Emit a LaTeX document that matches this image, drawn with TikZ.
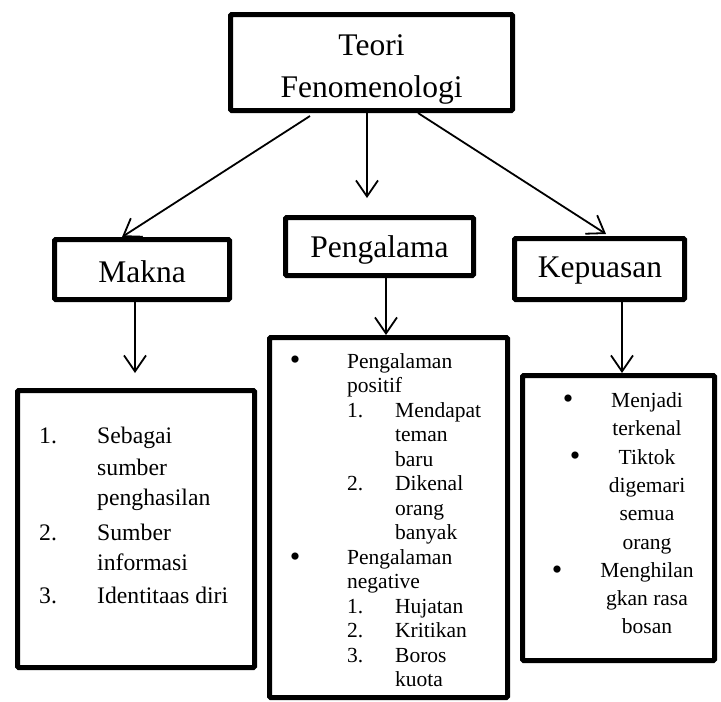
\documentclass[tikz,border=0pt]{standalone}
\usepackage{fontspec}
\setmainfont{Liberation Serif}
\usetikzlibrary{arrows.meta,calc}
\begin{document}
\begin{tikzpicture}[x=1pt,y=-1pt,
  box/.style={draw, line width=5pt, rounded corners=1.2pt, inner sep=0pt, minimum width=#1},
  conn/.style={line width=1.8pt, -{Straight Barb[length=16pt,width=22pt,line width=1.8pt]}},
  big/.style={font=\fontsize{31.5}{42}\selectfont, anchor=base, inner sep=0pt},
  mk/.style={font=\fontsize{23.7}{30}\selectfont, anchor=base west, inner sep=0pt},
  pl/.style={font=\fontsize{21.5}{24.5}\selectfont, anchor=base west, inner sep=0pt},
  kp/.style={font=\fontsize{21.5}{28}\selectfont, anchor=base, inner sep=0pt},
  bul/.style={font=\fontsize{30}{30}\selectfont, anchor=center, inner sep=0pt}]
\useasboundingbox (0,0) rectangle (721,702);

% boxes
\node[box=282pt, minimum height=96pt] (top) at (371.5,62.5) {};
\node[box=175pt, minimum height=60pt] (makna) at (142,269.5) {};
\node[box=188pt, minimum height=58pt] (peng) at (379.5,246.5) {};
\node[box=170pt, minimum height=61pt] (kep) at (599.5,269) {};
\node[box=237pt, minimum height=277pt] (mlist) at (136,529) {};
\node[box=238pt, minimum height=360pt] (plist) at (388.5,517.5) {};
\node[box=192pt, minimum height=285pt] (klist) at (618.5,518) {};

% labels
\node[big] (t1) at (371.5,55) {Teori};
\node[big] (t2) at (371.5,97) {Fenomenologi};
\node[big] (lm) at (142,282) {Makna};
\node[big] (lp) at (379.5,257) {Pengalama};
\node[big] (lk) at (600,277) {Kepuasan};

% connectors
\draw[conn] ($(top.south)+(-61.5,3)$) -- ($(makna.north)+(-20,0)$);
\draw[conn] ($(top.south)+(-4.5,0)$) -- ($(peng.north)+(-12.5,-17)$);
\draw[conn] ($(top.south)+(46.5,0)$) -- ($(kep.north)+(6.5,-2)$);
\draw[conn] ($(makna.south)+(-7,0)$) -- ($(mlist.north)+(-1,-15)$);
\draw[conn] ($(peng.south)+(6.5,0)$) -- ($(plist.north)+(-2.5,0)$);
\draw[conn] ($(kep.south)+(22.5,0)$) -- ($(klist.north)+(3.5,0)$);

% Makna list
\node[mk] (m1n) at (39,443) {1.};
\node[mk] (m1a) at (97,443) {Sebagai};
\node[mk] (m1b) at (97,475) {sumber};
\node[mk] (m1c) at (97,505) {penghasilan};
\node[mk] (m2n) at (39,540) {2.};
\node[mk] (m2a) at (97,540) {Sumber};
\node[mk] (m2b) at (97,570) {informasi};
\node[mk] (m3n) at (39,603) {3.};
\node[mk] (m3a) at (97,603) {Identitaas diri};

% Pengalama list
\node[bul] (pb1) at (295,363) {•};
\node[pl] (p1) at (347,368) {Pengalaman};
\node[pl] (p2) at (347,392.5) {positif};
\node[pl] (p3n) at (347,417) {1.};
\node[pl] (p3) at (395,417) {Mendapat};
\node[pl] (p4) at (395,441.5) {teman};
\node[pl] (p5) at (395,466) {baru};
\node[pl] (p6n) at (347,490.5) {2.};
\node[pl] (p6) at (395,490.5) {Dikenal};
\node[pl] (p7) at (395,515) {orang};
\node[pl] (p8) at (395,539.5) {banyak};
\node[bul] (pb2) at (295,560) {•};
\node[pl] (p9) at (347,564) {Pengalaman};
\node[pl] (p10) at (347,588.5) {negative};
\node[pl] (p11n) at (347,613) {1.};
\node[pl] (p11) at (395,613) {Hujatan};
\node[pl] (p12n) at (347,637.5) {2.};
\node[pl] (p12) at (395,637.5) {Kritikan};
\node[pl] (p13n) at (347,662) {3.};
\node[pl] (p13) at (395,662) {Boros};
\node[pl] (p14) at (395,686.5) {kuota};

% Kepuasan list
\node[bul] (kb1) at (568,402) {•};
\node[kp] (k1) at (647,407) {Menjadi};
\node[kp] (k2) at (647,435) {terkenal};
\node[bul] (kb2) at (575,459) {•};
\node[kp] (k3) at (647,464) {Tiktok};
\node[kp] (k4) at (647,492) {digemari};
\node[kp] (k5) at (647,520) {semua};
\node[kp] (k6) at (647,549) {orang};
\node[bul] (kb3) at (557,573) {•};
\node[kp] (k7) at (647,577) {Menghilan};
\node[kp] (k8) at (647,605) {gkan rasa};
\node[kp] (k9) at (647,633) {bosan};
\end{tikzpicture}
\end{document}
